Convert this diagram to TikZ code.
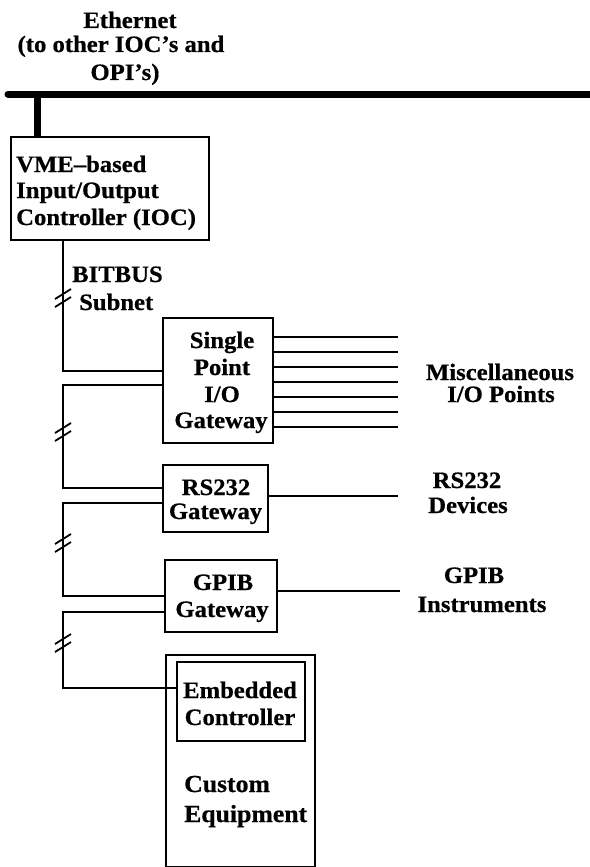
\documentclass[tikz,border=0pt]{standalone}
\usepackage{fontspec}
\setmainfont[FakeStretch=1.05, BoldFeatures={FakeBold=0.6}]{Liberation Serif}
\begin{document}
\begin{tikzpicture}[x=1pt,y=-1pt,
  lbl/.style={font=\bfseries\fontsize{23.5}{26}\selectfont, inner sep=0pt, anchor=base},
  lblw/.style={lbl, anchor=base west},
  bigl/.style={font=\bfseries\fontsize{24.5}{28}\selectfont, inner sep=0pt, anchor=base west},
  box/.style={draw, line width=2pt, inner sep=0pt},
  wire/.style={line width=1.8pt},
  bus/.style={line width=7pt, line cap=round},
  drop/.style={line width=7pt}]
\useasboundingbox (0,0) rectangle (589,867);

% Ethernet bus
\coordinate (ethL) at (8,94);
\coordinate (ethR) at (592,94);
\coordinate (ethT) at (37,94);
\draw[bus] (ethL) -- (ethR);
\node[lbl] (eth1) at (130,28) {Ethernet};
\node[lbl] (eth2) at (121,52) {(to other IOC’s and};
\node[lbl] (eth3) at (125,80) {OPI’s)};

% boxes
\node[box, minimum width=198, minimum height=103] (ioc) at (110,188.5) {};
\node[box, minimum width=110, minimum height=125] (sp) at (218,380.5) {};
\node[box, minimum width=105, minimum height=67] (rs) at (215.5,498.5) {};
\node[box, minimum width=112, minimum height=72] (gp) at (221,596) {};
\node[box, minimum width=149, minimum height=212] (cust) at (240.5,761) {};
\node[box, minimum width=128, minimum height=79] (emb) at (241,701.5) {};

\draw[drop] (ethT) -- (ethT |- ioc.north);

% box texts
\node[lblw] (t1) at (16,172) {VME–based};
\node[lblw] (t2) at (16,198) {Input/Output};
\node[lblw] (t3) at (16,225) {Controller (IOC)};

\node[lblw] (bb1) at (72,282) {BITBUS};
\node[lblw] (bb2) at (79,310) {Subnet};

\node[lbl] (s1) at (222,348) {Single};
\node[lbl] (s2) at (222,375) {Point};
\node[lbl] (s3) at (222,402) {I/O};
\node[lbl] (s4) at (221,428) {Gateway};

\node[lbl] (r1) at (216,495) {RS232};
\node[lbl] (r2) at (215.5,519) {Gateway};

\node[lbl] (g1) at (223,590) {GPIB};
\node[lbl] (g2) at (222,617) {Gateway};

\node[lbl] (e1) at (240,698) {Embedded};
\node[lbl] (e2) at (240,725) {Controller};

\node[bigl] (c1) at (184,792) {Custom};
\node[bigl] (c2) at (184,822) {Equipment};

% right labels
\node[lbl] (m1) at (500,380) {Miscellaneous};
\node[lbl] (m2) at (501,402) {I/O Points};
\node[lbl] (d1) at (467,488) {RS232};
\node[lbl] (d2) at (468,513) {Devices};
\node[lbl] (i1) at (474,583) {GPIB};
\node[lbl] (i2) at (482,612) {Instruments};

% BITBUS wiring
\coordinate (xl) at (63,0);
\coordinate (k1) at (63,371);
\coordinate (k2a) at (63,385);
\coordinate (k2b) at (63,488);
\coordinate (k3a) at (63,503);
\coordinate (k3b) at (63,596);
\coordinate (k4a) at (63,612);
\coordinate (k4b) at (63,688);
\draw[wire] (ioc.south -| xl) -- (k1) -- (k1 -| sp.west);
\draw[wire] (k2a -| sp.west) -- (k2a) -- (k2b) -- (k2b -| rs.west);
\draw[wire] (k3a -| rs.west) -- (k3a) -- (k3b) -- (k3b -| gp.west);
\draw[wire] (k4a -| gp.west) -- (k4a) -- (k4b) -- (k4b -| emb.west);

% slash marks
\foreach \y [count=\n] in {298,432,543,643}{
  \coordinate (sl\n) at (63,\y);
  \draw[wire] ([shift={(-8,1)}]sl\n) -- ([shift={(8,-9)}]sl\n);
  \draw[wire] ([shift={(-8,9)}]sl\n) -- ([shift={(8,-1)}]sl\n);
}

% outputs
\foreach \y [count=\n] in {337,352,367,382,397,412,427}{
  \coordinate (mo\n) at (398,\y);
  \draw[wire] (mo\n -| sp.east) -- (mo\n);
}
\coordinate (ro) at (398,496);
\draw[wire] (ro -| rs.east) -- (ro);
\coordinate (go) at (400,591);
\draw[wire] (go -| gp.east) -- (go);
\end{tikzpicture}
\end{document}
